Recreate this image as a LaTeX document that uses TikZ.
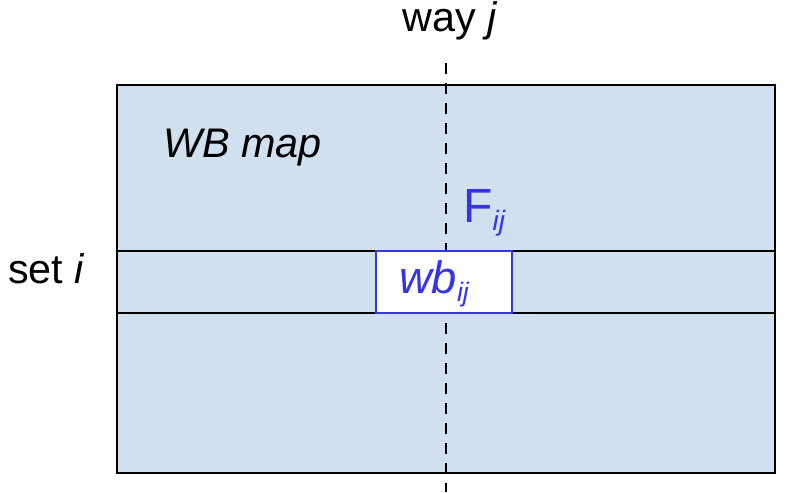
\documentclass[tikz,border=0pt]{standalone}
\usepackage{fontspec}
\setmainfont{Liberation Sans}
\usetikzlibrary{positioning}
\definecolor{mapblue}{HTML}{D0E0EE}
\definecolor{wbblue}{HTML}{3535E6}
\newcommand{\subij}[1]{{\fontsize{#1}{#1}\selectfont\itshape\raisebox{-0.3em}{ij}}}

\begin{document}
\begin{tikzpicture}[x=0.75pt, y=-0.75pt,
  label text/.style={inner sep=0pt, font=\fontsize{31}{36}\selectfont},
  wbbox/.style={draw=wbblue, line width=1.9pt, fill=white, inner sep=0pt,
    minimum width=102pt, minimum height=46.5pt, text=wbblue}]
\useasboundingbox (0,0) rectangle (787,492);

% WB map with the row of set i
\draw[line width=2pt, fill=mapblue] (117,85) rectangle (775,473);
\draw[line width=2pt] (117,251) -- (775,251);
\draw[line width=2pt] (117,313) -- (775,313);

% way j
\coordinate (waytop) at (446,63);
\coordinate (waybot) at (446,492);
\draw[line width=2.2pt, dash pattern=on 8.5pt off 6.5pt] (waytop) -- (waybot);

% Labels
\node[label text, anchor=base] (way) at (450,32) {way \textit{j}};
\node[label text, anchor=base west] (set) at (8,283) {set \textit{i}};
\node[label text, anchor=base west] (map) at (163,157) {\textit{WB map}};
\node[label text, anchor=base west, text=wbblue,
  font=\fontsize{36}{40}\selectfont] (flag) at (463,222) {F\subij{21}};

% Entry of set i, way j
\node[wbbox] (wb) at (444,282) {};
\node[label text, anchor=base, text=wbblue,
  font=\fontsize{34}{38}\selectfont\itshape] (wbtext) at (434,293) {wb\subij{20}};
\end{tikzpicture}
\end{document}
